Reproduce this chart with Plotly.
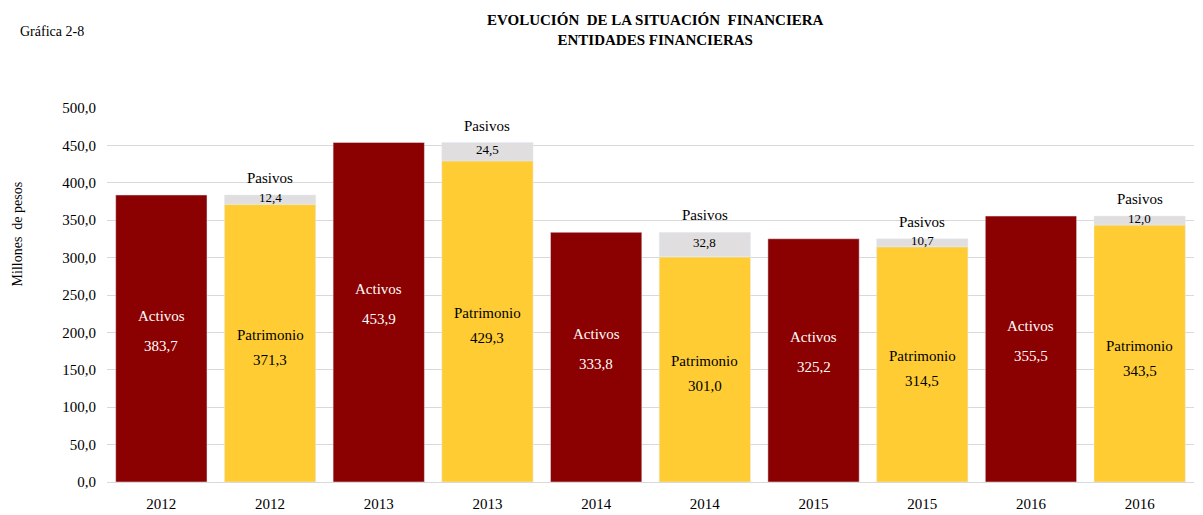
import plotly.graph_objects as go

years = ["2012", "2013", "2014", "2015", "2016"]
activos = [383.7, 453.9, 333.8, 325.2, 355.5]
patrimonio = [371.3, 429.3, 301.0, 314.5, 343.5]
pasivos = [12.4, 24.5, 32.8, 10.7, 12.0]
y_ticks = [0, 50, 100, 150, 200, 250, 300, 350, 400, 450, 500]

RED = "#8B0000"
YEL = "#FFCD33"
GRAY = "#E0DEDF"
FONT = "Liberation Serif, Times New Roman, serif"

def fmt(v):
    return f"{v:.1f}".replace(".", ",")

x_act = [2 * i for i in range(len(years))]
x_pat = [2 * i + 1 for i in range(len(years))]

fig = go.Figure()
fig.add_trace(go.Bar(x=x_act, y=activos, marker_color=RED, width=0.84, name="Activos"))
fig.add_trace(go.Bar(x=x_pat, y=patrimonio, marker_color=YEL, width=0.84, name="Patrimonio"))
fig.add_trace(go.Bar(x=x_pat, y=pasivos, base=patrimonio, marker_color=GRAY, width=0.84, name="Pasivos"))

ann = []
for i in range(len(years)):
    ann.append(dict(x=x_act[i], y=activos[i] / 2, text="Activos", showarrow=False,
                    yshift=23, font=dict(family=FONT, size=15, color="white")))
    ann.append(dict(x=x_act[i], y=activos[i] / 2, text=fmt(activos[i]), showarrow=False,
                    yshift=-7, font=dict(family=FONT, size=15, color="white")))
    ann.append(dict(x=x_pat[i], y=patrimonio[i] / 2, text="Patrimonio", showarrow=False,
                    yshift=8, font=dict(family=FONT, size=15, color="black")))
    ann.append(dict(x=x_pat[i], y=patrimonio[i] / 2, text=fmt(patrimonio[i]), showarrow=False,
                    yshift=-17, font=dict(family=FONT, size=15, color="black")))
    top = patrimonio[i] + pasivos[i]
    ann.append(dict(x=x_pat[i], y=patrimonio[i] + pasivos[i] / 2, text=fmt(pasivos[i]), showarrow=False,
                    yshift=2, font=dict(family=FONT, size=13, color="black")))
    ann.append(dict(x=x_pat[i], y=top, text="Pasivos", showarrow=False,
                    yshift=17, font=dict(family=FONT, size=15, color="black")))

ann.append(dict(xref="paper", yref="paper", x=0.5, y=1.0, xanchor="center", yanchor="bottom",
                text="<b>EVOLUCIÓN  DE LA SITUACIÓN  FINANCIERA<br>ENTIDADES FINANCIERAS</b>",
                showarrow=False, yshift=58, xshift=5,
                font=dict(family=FONT, size=15, color="black")))
ann.append(dict(xref="paper", yref="paper", x=0, y=1.0, xanchor="left", yanchor="bottom",
                text="Gráfica 2-8", showarrow=False, xshift=-89, yshift=67,
                font=dict(family=FONT, size=14, color="black")))
ann.append(dict(xref="paper", yref="y", x=0, y=331, xanchor="center", yanchor="middle",
                text="Millones  de pesos", textangle=-90, showarrow=False, xshift=-90,
                font=dict(family=FONT, size=14, color="black")))

fig.update_layout(
    width=1195, height=507,
    margin=dict(l=99, r=9, t=100, b=33, autoexpand=False),
    plot_bgcolor="white", paper_bgcolor="white",
    barmode="overlay", showlegend=False,
    separators=",.",
    annotations=ann,
    font=dict(family=FONT, size=15, color="black"),
)
fig.update_xaxes(
    tickmode="array",
    tickvals=x_act + x_pat,
    ticktext=years + years,
    range=[-0.5, 2 * len(years) - 0.5],
    showgrid=False, showline=True, linecolor="#d9d9d9", linewidth=1,
    ticks="", tickfont=dict(family=FONT, size=15), automargin=False,
    ticklabelstandoff=8,
)
fig.update_yaxes(
    range=[0, 500], tickvals=y_ticks, tickformat=".1f",
    showgrid=True, gridcolor="#d9d9d9", gridwidth=1, zeroline=False,
    ticks="", tickfont=dict(family=FONT, size=15), automargin=False,
    ticklabelstandoff=10,
)

fig.write_html("out.html")
